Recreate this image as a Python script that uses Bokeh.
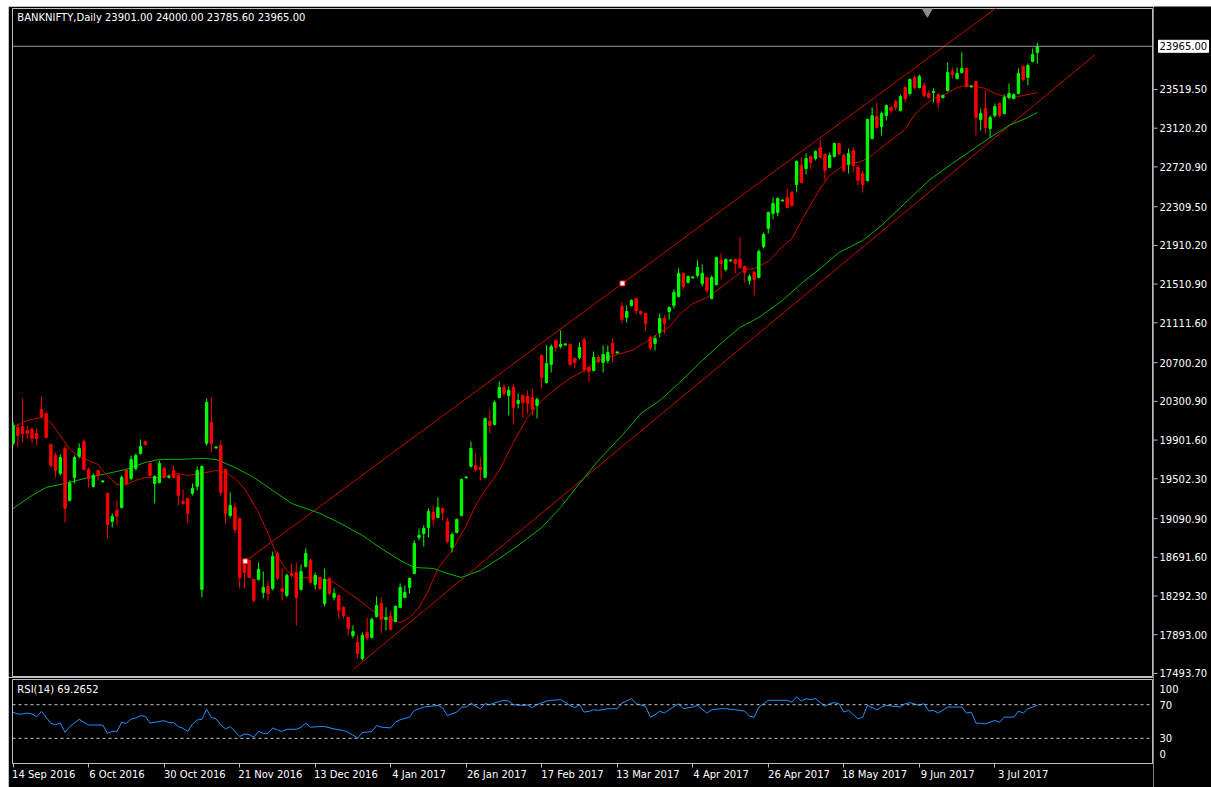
from bokeh.plotting import figure
from bokeh.models import (Range1d, FixedTicker, Span, Label, Spacer, ColumnDataSource)
from bokeh.core.properties import value
from bokeh.layouts import row, column
from bokeh.embed import file_html
from bokeh.resources import INLINE

# ---------------- data ----------------
header = "BANKNIFTY,Daily  23901.00 24000.00 23785.60 23965.00"
rsi_title = "RSI(14) 69.2652"

date_labels = ["14 Sep 2016", "6 Oct 2016", "30 Oct 2016", "21 Nov 2016", "13 Dec 2016",
               "4 Jan 2017", "26 Jan 2017", "17 Feb 2017", "13 Mar 2017", "4 Apr 2017",
               "26 Apr 2017", "18 May 2017", "9 Jun 2017", "3 Jul 2017"]
date_label_bars = [0, 16, 32, 48, 64, 80, 96, 112, 128, 144, 160, 176, 192, 208]

price_ticks = [17493.70, 17893.00, 18292.30, 18691.60, 19090.90, 19502.30, 19901.60,
               20300.90, 20700.20, 21111.60, 21510.90, 21910.20, 22309.50, 22720.90,
               23120.20, 23519.50]

rsi_tick_values = [30, 70]
rsi_scale_labels = ["100", "70", "30", "0"]

opens = [
    19867, 20032, 20042, 20001, 20011, 19970, 20218, 20176, 19857, 19743,
    19557, 19815, 19279, 19516, 19733, 19887, 19599, 19423, 19588, 19470,
    19351, 19062, 19176, 19206, 19588, 19506, 19609, 19764, 19887, 19660,
    19454, 19464, 19609, 19516, 19588, 19537, 19268, 19299, 19351, 19423,
    18360, 19867, 20083, 19820, 19846, 19599, 19124, 19206, 19093, 18649,
    18660, 18464, 18464, 18329, 18391, 18371, 18732, 18371, 18299, 18525,
    18536, 18360, 18598, 18660, 18412, 18484, 18216, 18474, 18278, 18299,
    18175, 18071, 17886, 17814, 17648, 17917, 17865, 18082, 18216, 18051,
    18082, 18030, 18175, 18278, 18381, 18525, 18897, 18938, 19000, 19155,
    19103, 19196, 19062, 18794, 18949, 19124, 19511, 19630, 19640, 19619,
    19516, 20094, 20063, 20341, 20445, 20362, 20445, 20280, 20362, 20352,
    20341, 20259, 20775, 20496, 20682, 20930, 20868, 20883, 20888, 20744,
    20754, 20940, 20651, 20620, 20754, 20703, 20723, 20899, 20801, 21280,
    21167, 21291, 21363, 21229, 21208, 20961, 20899, 21012, 21157, 21229,
    21291, 21384, 21621, 21528, 21575, 21600, 21518, 21580, 21363, 21507,
    21755, 21662, 21750, 21765, 21765, 21693, 21549, 21631, 21580, 21899,
    22085, 22240, 22250, 22369, 22405, 22457, 22539, 22735, 22704, 22828,
    22807, 22921, 22849, 22715, 22828, 22962, 22838, 22746, 22890, 22715,
    22653, 22580, 23014, 23241, 23138, 23251, 23334, 23396, 23303, 23540,
    23478, 23643, 23540, 23561, 23478, 23488, 23468, 23437, 23509, 23705,
    23633, 23695, 23736, 23545, 23602, 23210, 23323, 23117, 23251, 23375,
    23272, 23437, 23427, 23478, 23757, 23643, 23808, 23901]

highs = [
    20083, 20073, 20331, 20053, 20032, 20022, 20352, 20187, 19857, 19774,
    19753, 19846, 19485, 19743, 19867, 19908, 19619, 19557, 19599, 19485,
    19361, 19145, 19279, 19537, 19609, 19743, 19764, 19908, 19898, 19671,
    19537, 19691, 19630, 19547, 19640, 19557, 19392, 19299, 19454, 19630,
    19640, 20331, 20341, 19836, 19898, 19609, 19361, 19258, 19093, 18670,
    18660, 18464, 18639, 18546, 18453, 18752, 18752, 18577, 18525, 18629,
    18639, 18618, 18783, 18680, 18536, 18494, 18577, 18484, 18371, 18299,
    18185, 18071, 17989, 17886, 17917, 18071, 18071, 18288, 18278, 18175,
    18144, 18195, 18422, 18402, 18484, 18866, 18990, 19021, 19196, 19227,
    19310, 19206, 19103, 18949, 19093, 19506, 19526, 19887, 19764, 19722,
    20135, 20218, 20310, 20507, 20476, 20455, 20476, 20383, 20372, 20414,
    20434, 20341, 20785, 20878, 20888, 20940, 21033, 20899, 20899, 20754,
    20909, 20961, 20661, 20816, 20775, 20878, 20878, 20950, 20816, 21322,
    21291, 21353, 21373, 21239, 21218, 20981, 20981, 21208, 21188, 21280,
    21456, 21672, 21631, 21600, 21590, 21755, 21714, 21580, 21600, 21786,
    21827, 21776, 21765, 21765, 21992, 21703, 21611, 21652, 21869, 22044,
    22261, 22405, 22405, 22384, 22498, 22477, 22787, 22818, 22859, 22838,
    22890, 23003, 22859, 22869, 22972, 22972, 22859, 22911, 22921, 22735,
    22684, 23220, 23334, 23385, 23292, 23365, 23344, 23416, 23468, 23550,
    23633, 23664, 23674, 23592, 23509, 23530, 23478, 23468, 23798, 23746,
    23746, 23901, 23746, 23561, 23612, 23323, 23509, 23251, 23375, 23385,
    23468, 23581, 23478, 23736, 23767, 23788, 23942, 24000]

lows = [
    19846, 19826, 19877, 19918, 19867, 19846, 20135, 19918, 19619, 19516,
    19537, 19052, 19268, 19454, 19712, 19588, 19413, 19413, 19485, 19464,
    18887, 19000, 19021, 19196, 19433, 19485, 19588, 19753, 19846, 19516,
    19248, 19454, 19506, 19506, 19506, 19227, 19237, 19041, 19330, 19382,
    18278, 19846, 19774, 19815, 19330, 19041, 19103, 18938, 18371, 18371,
    18484, 18226, 18453, 18268, 18247, 18350, 18453, 18247, 18278, 18484,
    17989, 18350, 18587, 18422, 18360, 18350, 18185, 18299, 18247, 18061,
    18061, 17886, 17855, 17648, 17628, 17834, 17855, 18071, 17906, 17937,
    17937, 18020, 18164, 18268, 18319, 18525, 18866, 18804, 18897, 19021,
    19093, 19072, 18835, 18742, 18938, 19114, 19506, 19619, 19578, 19485,
    19516, 19970, 20053, 20331, 20352, 20156, 20063, 20228, 20135, 20176,
    20156, 20125, 20434, 20486, 20599, 20816, 20847, 20878, 20661, 20641,
    20734, 20599, 20496, 20610, 20692, 20599, 20692, 20703, 20795, 21105,
    21115, 21280, 21198, 21188, 21033, 20826, 20826, 20961, 21002, 21146,
    21260, 21373, 21456, 21518, 21569, 21580, 21487, 21414, 21353, 21497,
    21559, 21642, 21745, 21621, 21672, 21528, 21507, 21394, 21569, 21879,
    22034, 22178, 22209, 22364, 22292, 22312, 22457, 22549, 22642, 22694,
    22787, 22807, 22580, 22715, 22818, 22838, 22663, 22653, 22663, 22529,
    22457, 22570, 23003, 23117, 23045, 23200, 23272, 23303, 23292, 23385,
    23457, 23519, 23530, 23437, 23427, 23385, 23323, 23427, 23499, 23633,
    23622, 23684, 23540, 23540, 23045, 23096, 23065, 23024, 23230, 23230,
    23261, 23416, 23416, 23468, 23602, 23561, 23798, 23785.6]

closes = [
    20053, 19949, 19970, 19970, 19918, 19918, 20145, 19929, 19640, 19588,
    19722, 19196, 19454, 19722, 19815, 19599, 19506, 19537, 19537, 19480,
    19031, 19114, 19114, 19516, 19454, 19702, 19743, 19836, 19857, 19537,
    19526, 19660, 19516, 19526, 19516, 19330, 19248, 19145, 19402, 19588,
    19630, 20290, 19867, 19831, 19361, 19145, 19227, 18979, 18484, 18536,
    18484, 18247, 18567, 18381, 18319, 18701, 18474, 18340, 18505, 18505,
    18278, 18546, 18732, 18433, 18505, 18371, 18464, 18319, 18319, 18144,
    18092, 17958, 17927, 17700, 17886, 17865, 18051, 18195, 18051, 18071,
    17948, 18185, 18381, 18329, 18474, 18835, 18918, 18990, 19165, 19083,
    19206, 19155, 18856, 18928, 19083, 19495, 19521, 19815, 19599, 19599,
    20125, 20053, 20290, 20445, 20383, 20414, 20238, 20310, 20290, 20280,
    20218, 20321, 20548, 20692, 20868, 20857, 20888, 20894, 20682, 20703,
    20857, 20630, 20610, 20754, 20713, 20785, 20806, 20795, 20811, 21146,
    21229, 21342, 21239, 21208, 21105, 20857, 20950, 21157, 21105, 21270,
    21425, 21621, 21487, 21590, 21585, 21683, 21621, 21446, 21580, 21786,
    21724, 21765, 21760, 21724, 21683, 21631, 21590, 21559, 21848, 22023,
    22250, 22343, 22395, 22379, 22302, 22322, 22776, 22560, 22807, 22766,
    22880, 22818, 22684, 22838, 22962, 22859, 22684, 22859, 22735, 22580,
    22539, 23210, 23251, 23127, 23272, 23354, 23303, 23334, 23447, 23427,
    23622, 23540, 23653, 23457, 23437, 23499, 23385, 23457, 23695, 23674,
    23684, 23736, 23550, 23556, 23230, 23272, 23127, 23230, 23344, 23251,
    23437, 23478, 23468, 23684, 23622, 23767, 23880, 23965]

ma_fast_bars = [0, 3, 6, 8, 10, 12, 14, 16, 18, 19, 21, 22, 24, 26, 28, 31, 33, 35, 37, 40,
                43, 45, 47, 49, 50, 52, 54, 56, 58, 60, 62, 65, 68, 71, 74, 76, 79, 82, 84, 86,
                88, 90, 93, 96, 98, 100, 103, 106, 109, 112, 115, 118, 121, 124, 128, 131, 134,
                137, 139, 141, 144, 147, 150, 153, 155, 157, 160, 163, 165, 168, 171, 173, 175,
                177, 179, 181, 183, 185, 187, 189, 191, 193, 195, 197, 200, 202, 204, 206, 208,
                210, 212, 214, 217]
ma_fast_vals = [20032, 20104, 20135, 20083, 19949, 19805, 19733, 19691, 19650, 19588,
                19485, 19444, 19444, 19485, 19516, 19516, 19537, 19557, 19537, 19557,
                19588, 19567, 19506, 19402, 19320, 19155, 18938, 18701, 18556, 18474,
                18484, 18474, 18433, 18329, 18226, 18144, 18061, 18020, 18071, 18175,
                18350, 18577, 18763, 19021, 19227, 19382, 19588, 19877, 20135, 20310,
                20434, 20538, 20620, 20723, 20785, 20826, 20909, 21012, 21064, 21188,
                21311, 21373, 21476, 21590, 21662, 21672, 21745, 21899, 21982, 22250,
                22498, 22632, 22704, 22766, 22766, 22807, 22880, 22962, 23034, 23107,
                23261, 23354, 23427, 23457, 23540, 23561, 23550, 23530, 23478, 23447,
                23437, 23457, 23488]

ma_slow_bars = [0, 4, 7, 11, 16, 20, 24, 28, 31, 35, 40, 43, 47, 51, 55, 59, 65, 69, 74, 78,
                82, 85, 89, 92, 95, 99, 103, 107, 112, 116, 120, 124, 129, 133, 137, 141, 146,
                150, 154, 158, 163, 167, 171, 175, 180, 184, 188, 190, 194, 199, 203, 207, 211,
                215, 217]
ma_slow_vals = [19196, 19330, 19413, 19454, 19516, 19557, 19599, 19671, 19702, 19702,
                19712, 19702, 19619, 19516, 19382, 19248, 19145, 19052, 18918, 18783,
                18660, 18587, 18577, 18525, 18484, 18556, 18680, 18814, 19000, 19206,
                19454, 19691, 19949, 20176, 20310, 20486, 20723, 20899, 21064, 21167,
                21342, 21518, 21672, 21838, 21961, 22116, 22302, 22395, 22580, 22756,
                22890, 23024, 23148, 23230, 23282]

rsi_bars = [0, 1, 2, 3, 4, 5, 6, 7, 8, 9, 10, 11, 12, 14, 15, 16, 19, 20, 21, 22,
            23, 24, 25, 26, 27, 28, 29, 30, 32, 33, 34, 35, 36, 37, 38, 39, 40, 41, 42, 43,
            44, 45, 46, 47, 48, 49, 50, 51, 52, 53, 54, 55, 56, 57, 58, 60, 61, 62, 63, 65,
            66, 68, 70, 71, 73, 74, 76, 77, 78, 80, 81, 82, 84, 85, 86, 87, 89, 90, 91, 92,
            94, 95, 96, 97, 98, 99, 100, 101, 103, 104, 105, 106, 108, 109, 110, 111, 113, 114, 116, 118,
            119, 120, 121, 122, 123, 124, 126, 128, 129, 131, 132, 134, 135, 136, 137, 138, 139, 141, 142, 144,
            145, 147, 148, 150, 151, 153, 155, 156, 157, 158, 160, 161, 164, 165, 166, 167, 168, 169, 170, 172,
            173, 174, 175, 176, 177, 179, 180, 181, 183, 184, 185, 188, 189, 190, 192, 193, 194, 195, 196, 198,
            201, 202, 203, 204, 205, 206, 208, 209, 210, 212, 213, 214, 215, 217]
rsi_vals = [60.9, 58.9, 58.9, 60.1, 58.9, 55.7, 62.1, 55.0, 47.8, 46.2, 48.2, 37.1, 43.9, 52.6, 49.0, 45.8, 45.8, 35.9, 38.3, 38.3,
            49.0, 47.8, 53.0, 54.2, 56.9, 56.1, 48.2, 49.0, 51.0, 48.6, 48.6, 43.9, 41.9, 38.3, 47.0, 51.8, 52.6, 64.5, 55.0, 53.0,
            46.2, 41.1, 43.9, 38.3, 32.0, 35.1, 34.4, 31.2, 38.3, 35.9, 35.9, 42.3, 39.9, 38.3, 40.7, 40.7, 43.1, 48.0, 43.2, 44.0,
            44.0, 41.2, 39.2, 37.2, 30.4, 36.8, 38.0, 45.2, 43.2, 42.4, 49.2, 52.0, 55.2, 63.2, 65.2, 67.2, 68.4, 69.2, 66.4, 57.2,
            61.2, 67.2, 67.2, 72.0, 68.0, 65.2, 71.2, 70.0, 74.0, 75.2, 74.4, 70.0, 69.2, 69.6, 66.4, 70.0, 74.4, 75.2, 76.0, 69.2,
            66.4, 70.0, 61.2, 62.0, 64.0, 63.2, 65.2, 65.2, 72.0, 77.2, 71.2, 68.0, 55.2, 58.0, 62.4, 60.0, 64.0, 71.2, 65.2, 67.2,
            69.2, 60.0, 64.0, 65.2, 65.2, 64.0, 62.4, 56.4, 55.2, 67.2, 75.2, 75.2, 75.2, 73.2, 79.2, 74.4, 77.2, 76.0, 77.2, 68.0,
            71.2, 72.4, 71.2, 61.2, 63.2, 53.2, 55.2, 69.2, 64.0, 67.2, 69.2, 67.2, 71.2, 72.4, 69.2, 71.2, 62.4, 63.2, 60.0, 67.2,
            67.2, 60.0, 61.2, 48.0, 48.0, 47.2, 51.2, 49.2, 55.2, 55.2, 62.4, 60.0, 65.2, 69.27]

channel_top_bars = [49.2, 129.1]
channel_top_prices = [18650, 21518]
channel_bottom_bars = [72.2, 229.2]
channel_bottom_prices = [17542, 23877]

shift_marker_bar = 193.7   # MT4 chart-shift marker at the top edge

# ---------------- geometry / styling ----------------
FONT = "DejaVu Sans"
BULL = "#00ff00"
BEAR = "#ff0000"
FRAME = "#bdbdbd"
TXT = "10px"

TOP_GAP, LEFT_GAP = 6, 8
MAIN_H, RSI_H = 671, 110          # figure heights
MAIN_FRAME_H = 668                # main frame 8..676
RSI_FRAME_H = 84                  # rsi frame 679..763
PANEL_W = 1145                    # figures left of the price scale
SCALE_W = 1211 - LEFT_GAP - PANEL_W
SCALE_H = 787 - TOP_GAP

n = len(closes)
idx = list(range(n))
colors = [BULL if c >= o else BEAR for o, c in zip(opens, closes)]
src = ColumnDataSource(dict(
    x=idx, open=opens, close=closes, high=highs, low=lows,
    top=[max(o, c) for o, c in zip(opens, closes)],
    bottom=[min(o, c) for o, c in zip(opens, closes)],
    color=colors))

x_range = Range1d(-0.13, 241.4)
y_top, y_bottom = 24355.0, 17462.0
unit = (y_top - y_bottom) / MAIN_FRAME_H   # price per pixel


def base_fig(height, y_range, **kw):
    f = figure(width=PANEL_W, height=height, x_range=x_range, y_range=y_range,
               y_axis_location=None, toolbar_location=None, output_backend="svg",
               min_border_left=4, min_border_right=1, **kw)
    f.background_fill_color = "black"
    f.border_fill_color = "black"
    f.outline_line_color = FRAME
    f.xgrid.visible = False
    f.ygrid.visible = False
    return f


# ---------------- main price panel ----------------
p = base_fig(MAIN_H, Range1d(y_bottom, y_top), x_axis_location=None,
             min_border_top=2, min_border_bottom=1)

p.add_layout(Span(location=closes[-1], dimension="width", line_color="#9a9a9a", line_width=1))

slope = (channel_top_prices[1] - channel_top_prices[0]) / (channel_top_bars[1] - channel_top_bars[0])
x_end = x_range.end
p.line([channel_top_bars[0], x_end],
       [channel_top_prices[0], channel_top_prices[0] + slope * (x_end - channel_top_bars[0])],
       line_color="#c80000", line_width=1)
p.line(channel_bottom_bars, channel_bottom_prices, line_color="#c80000", line_width=1)

p.line(ma_slow_bars, ma_slow_vals, line_color="#00b400", line_width=1)
p.line(ma_fast_bars, ma_fast_vals, line_color="#c80000", line_width=1)

p.segment(x0="x", y0="low", x1="x", y1="high", line_color="color", line_width=1, source=src)
p.vbar(x="x", width=0.5, top="top", bottom="bottom", fill_color="color",
       line_color="color", line_width=1, source=src)

p.scatter(channel_top_bars, channel_top_prices, marker="square", size=5,
          fill_color="white", line_color="#ff0000", line_width=1)

p.scatter([shift_marker_bar], [y_top - 3 * unit], marker="inverted_triangle", size=10,
          fill_color="#8c8c96", line_color="#8c8c96")

p.add_layout(Label(x=0.9, y=y_top - 9 * unit, text=header, text_color="white",
                   text_font=FONT, text_font_size=TXT, text_baseline="middle",
                   text_align="left"))

# ---------------- RSI panel ----------------
r = base_fig(RSI_H, Range1d(0, 100), min_border_top=2, min_border_bottom=24)
for lv in rsi_tick_values:
    r.add_layout(Span(location=lv, dimension="width", line_color="#c8c8c8",
                      line_width=1, line_dash="3 3"))
r.line(rsi_bars, rsi_vals, line_color="#1e90ff", line_width=1)
r.add_layout(Label(x=0.9, y=88, text=rsi_title, text_color="white", text_font=FONT,
                   text_font_size=TXT, text_baseline="middle", text_align="left"))

# MT4 draws each date label starting at its tick: centre it half a label-width to the right
label_pos = [b + round(len(t) * 5.75 / 2 / 4.72 * 2) / 2 for b, t in zip(date_label_bars, date_labels)]
rx = r.xaxis[0]
rx.ticker = FixedTicker(ticks=label_pos, minor_ticks=date_label_bars)
rx.major_label_overrides = {pos: t for pos, t in zip(label_pos, date_labels)}
rx.axis_line_color = FRAME
rx.major_tick_line_color = None
rx.major_tick_out = 4
rx.major_tick_in = 0
rx.minor_tick_line_color = FRAME
rx.minor_tick_out = 4
rx.minor_tick_in = 0
rx.major_label_text_color = "white"
rx.major_label_text_font = FONT
rx.major_label_text_font_size = TXT
rx.major_label_standoff = 1

# ---------------- price / RSI scale column (right) ----------------
s_top = y_top + 2 * unit                                  # main frame starts 2px lower
s_bottom = y_bottom - (SCALE_H - 2 - MAIN_FRAME_H) * unit
rsi_ppu = RSI_FRAME_H / 100.0
rsi_frame_top_px = MAIN_H + 2
rsi_top = 100 + rsi_frame_top_px / rsi_ppu
rsi_bottom = -(SCALE_H - rsi_frame_top_px - RSI_FRAME_H) / rsi_ppu

s = figure(width=SCALE_W, height=SCALE_H, x_range=Range1d(0, SCALE_W),
           y_range=Range1d(s_bottom, s_top), toolbar_location=None, output_backend="svg",
           x_axis_location=None, y_axis_location=None,
           min_border_left=0, min_border_right=0, min_border_top=0, min_border_bottom=0)
s.extra_y_ranges = {"rsi": Range1d(rsi_bottom, rsi_top)}
s.background_fill_color = "black"
s.border_fill_color = "black"
s.outline_line_color = None
s.xgrid.visible = False
s.ygrid.visible = False

s.segment(x0=[0] * len(price_ticks), x1=[4] * len(price_ticks), y0=price_ticks, y1=price_ticks,
          line_color=FRAME, line_width=1)
s.text(x=[6] * len(price_ticks), y=price_ticks, text=[f"{v:.2f}" for v in price_ticks],
       text_color="white", text_font=value(FONT), text_font_size=value(TXT),
       text_baseline="middle", text_align="left")
s.quad(left=[5], right=[55], top=[closes[-1] + 6 * unit], bottom=[closes[-1] - 6 * unit],
       fill_color="white", line_color="white")
s.text(x=[6], y=[closes[-1]], text=[f"{closes[-1]:.2f}"], text_color="black",
       text_font=value(FONT), text_font_size=value(TXT), text_baseline="middle",
       text_align="left")

rsi_label_y = [89, 70, 30, 11]   # MT4 draws 100 and 0 slightly inside the panel
s.text(x=[6] * 4, y=rsi_label_y, text=rsi_scale_labels, y_range_name="rsi",
       text_color="white", text_font=value(FONT), text_font_size=value(TXT),
       text_baseline="middle", text_align="left")

layout = row(Spacer(width=LEFT_GAP, height=787),
             column(Spacer(width=PANEL_W, height=TOP_GAP), p, r),
             column(Spacer(width=SCALE_W, height=TOP_GAP), s))

open("out.html", "w").write(file_html(layout, INLINE, title="BANKNIFTY Daily"))
